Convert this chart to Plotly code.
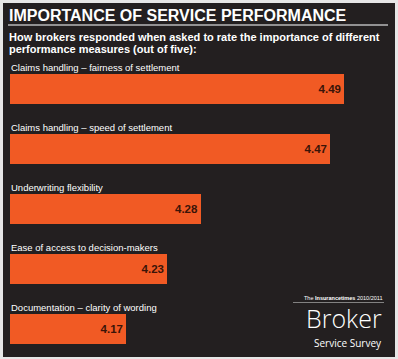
import plotly.graph_objects as go

W, H = 398, 359

categories = [
    "Claims handling – fairness of settlement",
    "Claims handling – speed of settlement",
    "Underwriting flexibility",
    "Ease of access to decision-makers",
    "Documentation – clarity of wording",
]
scores = [4.49, 4.47, 4.28, 4.23, 4.17]

title = "IMPORTANCE OF SERVICE PERFORMANCE"
subtitle_lines = [
    "How brokers responded when asked to rate the importance of different",
    "performance measures (out of five):",
]

BG = "#231f20"
ORANGE = "#f15a24"
VALTXT = "#3a1408"

def px(x):
    return x / W

def py(y):
    return 1 - y / H

ys = list(range(len(categories)))

fig = go.Figure()
fig.add_trace(go.Bar(
    x=scores, y=ys, orientation="h", width=0.5,
    marker=dict(color=ORANGE, line=dict(width=0)),
    texttemplate="%{x:.2f}", textposition="inside", insidetextanchor="end",
    textfont=dict(family="Liberation Sans, Arial, sans-serif", size=11.5, color=VALTXT, weight="bold"),
    constraintext="none", cliponaxis=False, hoverinfo="skip",
))

x0_px, x1_px = 10, 388
ppu = 681.0
fig.update_xaxes(domain=[px(x0_px), px(x1_px)], range=[4.0, 4.0 + (x1_px - x0_px) / ppu],
                 visible=False, fixedrange=True)
top_px = 89 - 30
fig.update_yaxes(domain=[py(top_px + 300), py(top_px)], range=[4.5, -0.5],
                 visible=False, fixedrange=True)

annotations = []
for i, c in enumerate(categories):
    annotations.append(dict(
        text=c, xref="paper", yref="y", x=px(9), y=i - 0.36,
        xanchor="left", yanchor="middle", showarrow=False,
        font=dict(family="Liberation Sans, Arial, sans-serif", size=9.5, color="white"),
    ))

annotations.append(dict(
    text=title, xref="paper", yref="paper", x=px(7), y=py(15),
    xanchor="left", yanchor="middle", showarrow=False,
    font=dict(family="Liberation Sans, Arial, sans-serif", size=16, color="white", weight="bold"),
))
for j, line in enumerate(subtitle_lines):
    annotations.append(dict(
        text=line, xref="paper", yref="paper", x=px(7), y=py(37 + 12 * j),
        xanchor="left", yanchor="middle", showarrow=False,
        font=dict(family="Liberation Sans, Arial, sans-serif", size=11, color="white", weight="bold"),
    ))

annotations += [
    dict(text="The <b>Insurancetimes</b> 2010/2011", xref="paper", yref="paper",
         x=px(384), y=py(297.5), xanchor="right", yanchor="middle", showarrow=False,
         borderpad=0,
         font=dict(family="Liberation Sans, sans-serif", size=5.5, color="white")),
    dict(text="Broker", xref="paper", yref="paper",
         x=px(383), y=py(318), xanchor="right", yanchor="middle", showarrow=False,
         borderpad=0,
         font=dict(family="Open Sans, Lato, sans-serif", size=25, color="white", weight=300)),
    dict(text="Service Survey", xref="paper", yref="paper",
         x=px(383), y=py(342.5), xanchor="right", yanchor="middle", showarrow=False,
         borderpad=0,
         font=dict(family="Open Sans, sans-serif", size=10, color="white")),
]

shapes = [
    dict(type="rect", xref="paper", yref="paper", x0=px(3), x1=px(395), y0=py(357), y1=py(3),
         fillcolor=BG, line=dict(width=0), layer="below"),
    dict(type="line", xref="paper", yref="paper", x0=px(8), x1=px(388), y0=py(25), y1=py(25),
         line=dict(color="#b8b8b8", width=1.5)),
    dict(type="line", xref="paper", yref="paper", x0=px(293), x1=px(384), y0=py(302.5), y1=py(302.5),
         line=dict(color="#9a9a9a", width=0.8)),
]

fig.update_layout(
    width=W, height=H, margin=dict(l=0, r=0, t=0, b=0),
    paper_bgcolor="#e6e6e6", plot_bgcolor="rgba(0,0,0,0)",
    showlegend=False, annotations=annotations, shapes=shapes,
    bargap=0,
)

fig.write_html("out.html", config={"displayModeBar": False},
               post_script="document.body.style.margin='0';document.body.style.padding='0';")
